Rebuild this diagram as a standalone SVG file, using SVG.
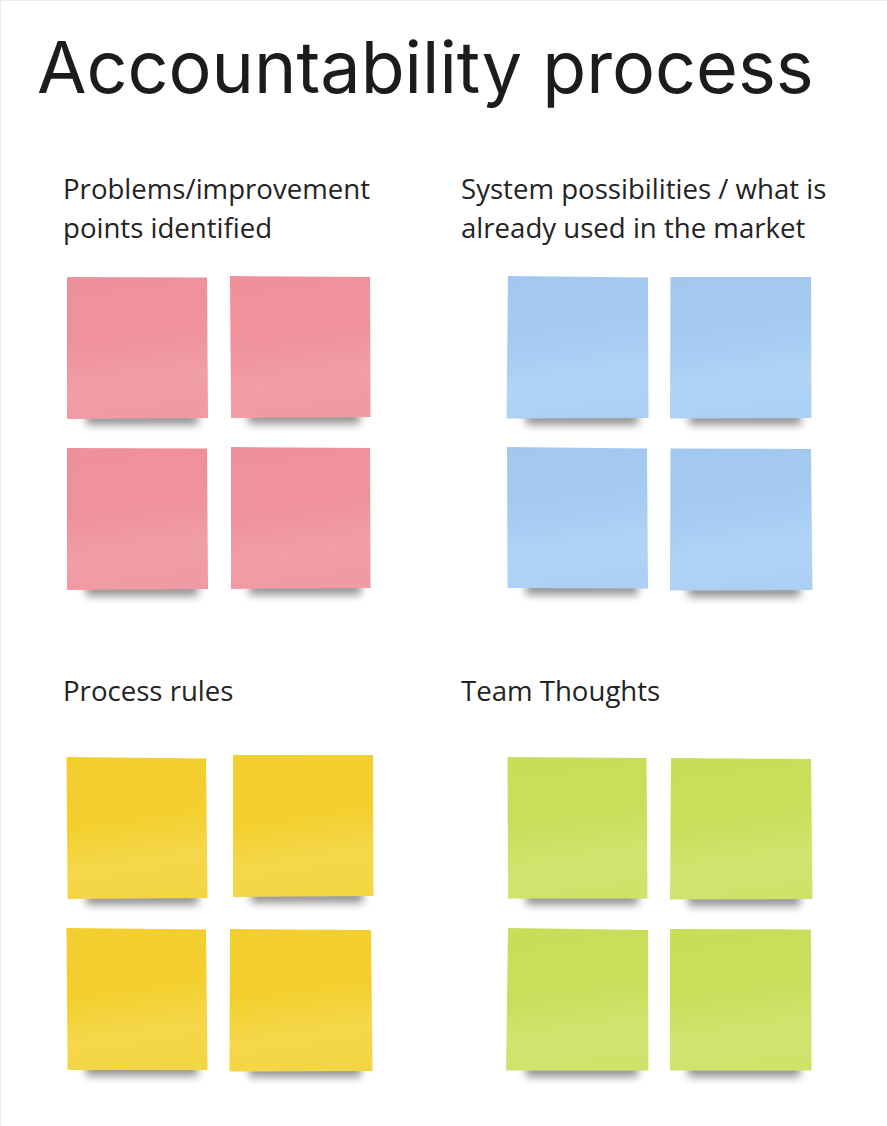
<svg xmlns="http://www.w3.org/2000/svg" width="887" height="1126" viewBox="0 0 887 1126">
  <style>
    .title { font-family: Inter, "Noto Sans", "Liberation Sans", sans-serif; font-size: 71.8px; font-weight: 400; fill: #1c1c1c; }
    .head { font-family: "Open Sans", "Noto Sans", "Liberation Sans", sans-serif; font-size: 27.6px; fill: #232323; }
    .shadow { fill: #000; opacity: 0.42; filter: url(#soft); }
    .pink { fill: url(#gPink); }
    .blue { fill: url(#gBlue); }
    .yellow { fill: url(#gYellow); }
    .green { fill: url(#gGreen); }
  </style>
  <defs>
    <filter id="soft" x="-20%" y="-100%" width="140%" height="300%">
      <feGaussianBlur stdDeviation="4"/>
    </filter>
    <linearGradient id="gPink" x1="0.3" y1="0" x2="0.45" y2="1">
      <stop offset="0" stop-color="#ee919b"/>
      <stop offset="0.45" stop-color="#ef929c"/>
      <stop offset="0.75" stop-color="#f19ea7"/>
      <stop offset="1" stop-color="#f09aa3"/>
    </linearGradient>
    <linearGradient id="gBlue" x1="0.3" y1="0" x2="0.45" y2="1">
      <stop offset="0" stop-color="#a2c8f0"/>
      <stop offset="0.45" stop-color="#a6cbf2"/>
      <stop offset="0.75" stop-color="#b1d3f6"/>
      <stop offset="1" stop-color="#acd0f4"/>
    </linearGradient>
    <linearGradient id="gYellow" x1="0.3" y1="0" x2="0.45" y2="1">
      <stop offset="0" stop-color="#f2cf2e"/>
      <stop offset="0.45" stop-color="#f3d02f"/>
      <stop offset="0.75" stop-color="#f5d74a"/>
      <stop offset="1" stop-color="#f4d544"/>
    </linearGradient>
    <linearGradient id="gGreen" x1="0.3" y1="0" x2="0.45" y2="1">
      <stop offset="0" stop-color="#c8dd58"/>
      <stop offset="0.45" stop-color="#c9de5b"/>
      <stop offset="0.75" stop-color="#d1e46f"/>
      <stop offset="1" stop-color="#cfe26a"/>
    </linearGradient>
  </defs>

  <!-- canvas -->
  <rect x="0" y="0" width="887" height="1126" fill="#ffffff"/>
  <rect x="0.5" y="0.5" width="887" height="1126" fill="none" stroke="#ececec" stroke-width="1"/>

  <text class="title" x="37" y="93">Accountability process</text>

  <!-- section headings -->
  <g id="heading-problems">
    <text class="head" x="63" y="199">Problems/improvement</text>
    <text class="head" x="63" y="238">points identified</text>
  </g>
  <g id="heading-system">
    <text class="head" x="461" y="199">System possibilities / what is</text>
    <text class="head" x="461" y="238">already used in the market</text>
  </g>
  <g id="heading-rules">
    <text class="head" x="63" y="701">Process rules</text>
  </g>
  <g id="heading-team">
    <text class="head" x="461" y="701">Team Thoughts</text>
  </g>

  <g id="connectors"/>

  <!-- pink notes -->
  <g id="pink-1">
    <rect class="shadow" x="86" y="411" width="112" height="14"/>
    <polygon class="pink" points="67,277 207,277.5 208,418 67,419"/>
  </g>
  <g id="pink-2">
    <rect class="shadow" x="248" y="410" width="112" height="14"/>
    <polygon class="pink" points="230,276 370,277 370.5,417 231,418"/>
  </g>
  <g id="pink-3">
    <rect class="shadow" x="86" y="582" width="112" height="14"/>
    <polygon class="pink" points="67,448 207,448.5 208,589 67,590"/>
  </g>
  <g id="pink-4">
    <rect class="shadow" x="249" y="581" width="112" height="14"/>
    <polygon class="pink" points="231,447 370,448 370.5,588 231,589"/>
  </g>

  <!-- blue notes -->
  <g id="blue-1">
    <rect class="shadow" x="526" y="411" width="112" height="14"/>
    <polygon class="blue" points="508,276 648,277.5 648.5,418 506.5,418.5"/>
  </g>
  <g id="blue-2">
    <rect class="shadow" x="689" y="411" width="112" height="14"/>
    <polygon class="blue" points="670.5,277 811,277 811.5,418 670,418.5"/>
  </g>
  <g id="blue-3">
    <rect class="shadow" x="526" y="581" width="112" height="14"/>
    <polygon class="blue" points="507,447 647,448.5 648,588.5 507.5,588"/>
  </g>
  <g id="blue-4">
    <rect class="shadow" x="688" y="583" width="112" height="14"/>
    <polygon class="blue" points="670.5,448.5 811,449 812.5,590 670,590.5"/>
  </g>

  <!-- yellow notes -->
  <g id="yellow-1">
    <rect class="shadow" x="86" y="891" width="112" height="14"/>
    <polygon class="yellow" points="66.5,757 206,758.5 207.5,898 67.5,899"/>
  </g>
  <g id="yellow-2">
    <rect class="shadow" x="251" y="889" width="112" height="14"/>
    <polygon class="yellow" points="233,755 373,755 373.5,896 233,897"/>
  </g>
  <g id="yellow-3">
    <rect class="shadow" x="86" y="1062" width="112" height="14"/>
    <polygon class="yellow" points="66.5,928 206,929.5 207.5,1070 67.5,1070"/>
  </g>
  <g id="yellow-4">
    <rect class="shadow" x="249" y="1063" width="112" height="14"/>
    <polygon class="yellow" points="230,929 371,930 372.5,1071 229.5,1071.5"/>
  </g>

  <!-- green notes -->
  <g id="green-1">
    <rect class="shadow" x="526" y="891" width="112" height="14"/>
    <polygon class="green" points="507.5,757 646.5,758 647.5,898.5 508,898.5"/>
  </g>
  <g id="green-2">
    <rect class="shadow" x="688" y="892" width="112" height="14"/>
    <polygon class="green" points="671,758 811,759 812.5,899 670,899.5"/>
  </g>
  <g id="green-3">
    <rect class="shadow" x="526" y="1063" width="112" height="14"/>
    <polygon class="green" points="508,928 648,930 648.5,1070.5 506,1070.5"/>
  </g>
  <g id="green-4">
    <rect class="shadow" x="688" y="1063" width="112" height="14"/>
    <polygon class="green" points="670,929 811,929.5 811.5,1070.5 670,1070.5"/>
  </g>
</svg>
